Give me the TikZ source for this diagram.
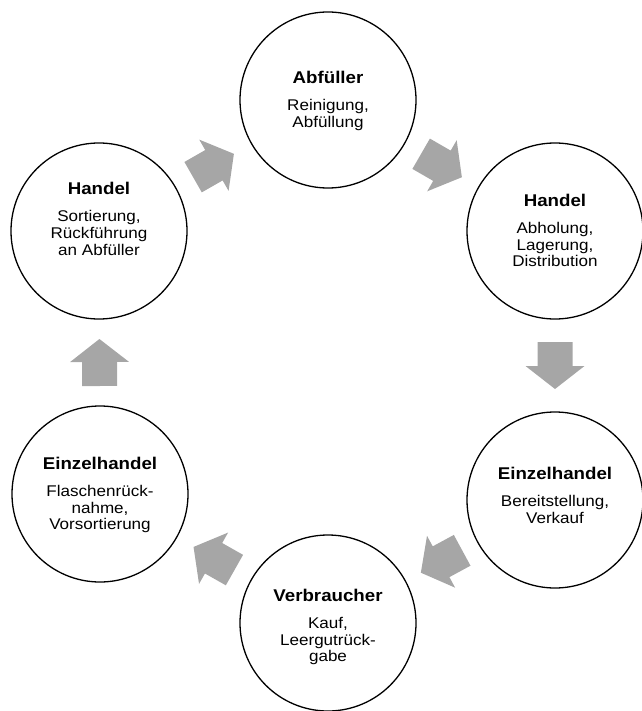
\documentclass[tikz,border=0pt]{standalone}
\usepackage{fontspec}
\setmainfont[FakeStretch=1.1]{Liberation Sans}
\usetikzlibrary{calc}
\definecolor{arrowgray}{RGB}{166,166,166}
\tikzset{
  stage/.style={circle, draw=black, line width=1.3pt, minimum size=176pt, inner sep=0pt},
  ctext/.style={anchor=base, inner sep=0pt, font=\fontsize{15.5}{16.5}\selectfont},
  blockarr/.pic={\fill[arrowgray] (-23.5,-17.5) -- (0.5,-17.5) -- (0.5,-29.5) -- (23.5,0)
      -- (0.5,29.5) -- (0.5,17.5) -- (-23.5,17.5) -- cycle;},
  flow/.style={pos=0.5, sloped, allow upside down}
}
\newcommand\stagetext[2]{\begin{tabular}[t]{@{}c@{}}{\fontsize{17}{16.5}\selectfont\bfseries #1}\\[10.5pt] #2\end{tabular}}
\begin{document}
\begin{tikzpicture}[x=1pt,y=-1pt]
\useasboundingbox (0,0) rectangle (641,711);
% circles
\node[stage] (abf)   at (328,100) {};
\node[stage] (handr) at (555,231) {};
\node[stage] (einzr) at (555,500) {};
\node[stage] (verb)  at (328,623) {};
\node[stage] (einzl) at (100,494) {};
\node[stage] (handl) at (99,231) {};
% texts
\node[ctext] (abft)   at (328,84)    {\stagetext{Abfüller}{Reinigung,\\ Abfüllung}};
\node[ctext] (handrt) at (555,207)   {\stagetext{Handel}{Abholung,\\ Lagerung,\\ Distribution}};
\node[ctext] (einzrt) at (555,479.5) {\stagetext{Einzelhandel}{Bereitstellung,\\ Verkauf}};
\node[ctext] (verbt)  at (328,601.5) {\stagetext{Verbraucher}{Kauf,\\ Leergutrück-\\ gabe}};
\node[ctext] (einzlt) at (100,469.5) {\stagetext{Einzelhandel}{Flaschenrück-\\ nahme,\\ Vorsortierung}};
\node[ctext] (handlt) at (99,195)    {\stagetext{Handel}{Sortierung,\\ Rückführung\\ an Abfüller}};
% block arrows
\path (handl.center) -- (abf.center)   pic[flow]{blockarr};
\path (abf.center)   -- (handr.center) pic[flow]{blockarr};
\path (handr.center) -- (einzr.center) pic[flow]{blockarr};
\path (einzr.center) -- (verb.center)  pic[flow]{blockarr};
\path (verb.center)  -- (einzl.center) pic[flow]{blockarr};
\path (einzl.center) -- (handl.center) pic[flow]{blockarr};
\end{tikzpicture}
\end{document}
